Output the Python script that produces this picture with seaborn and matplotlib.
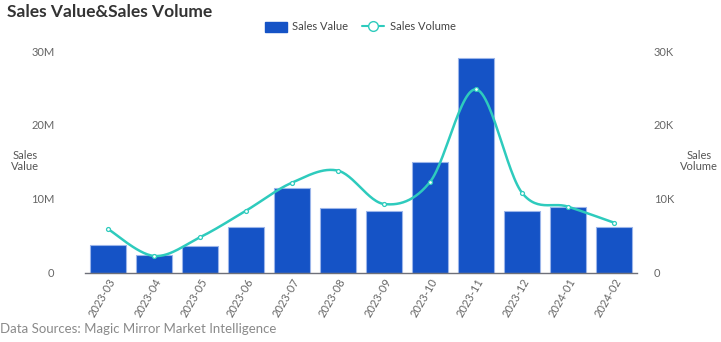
import numpy as np
import pandas as pd
import matplotlib
matplotlib.use("Agg")
import matplotlib.pyplot as plt
import seaborn as sns
from matplotlib.lines import Line2D
from matplotlib.patches import Patch
from matplotlib.ticker import FuncFormatter

months = ["2023-03", "2023-04", "2023-05", "2023-06", "2023-07", "2023-08",
          "2023-09", "2023-10", "2023-11", "2023-12", "2024-01", "2024-02"]
sales_value = [3.77e6, 2.37e6, 3.59e6, 6.12e6, 11.4e6, 8.78e6,
               8.33e6, 14.9e6, 29.0e6, 8.33e6, 8.88e6, 6.17e6]
sales_volume = [5890, 2240, 4770, 8370, 12170, 13790,
                9280, 12260, 24800, 10800, 8920, 6750]

sns.set_theme(style="white")
plt.rcParams['font.family'] = ['Lato', 'DejaVu Sans']

BAR = "#1553c6"
LINE = "#2ecbbd"
GREY = "#666666"

fig = plt.figure(figsize=(7.21, 3.42), dpi=100)
ax = fig.add_axes([85/721, 1-272.5/342, (637-85)/721, (272.5-51)/342])

df = pd.DataFrame({"month": months, "value": sales_value, "volume": sales_volume})
sns.barplot(data=df, x="month", y="value", color=BAR, width=0.78,
            edgecolor="#9bb5ea", linewidth=0.8, saturation=1, ax=ax)
ax.set_ylim(0, 30e6)
ax.set_xlim(-0.5, len(months)-0.5)
ax.set_yticks([0, 10e6, 20e6, 30e6])
ax.yaxis.set_major_formatter(FuncFormatter(lambda v, p: "0" if v == 0 else f"{int(v/1e6)}M"))
ax.set_xlabel("")
ax.set_ylabel("")
for s in ["top", "right", "left"]:
    ax.spines[s].set_visible(False)
ax.spines["bottom"].set_color("#6e7079")
ax.spines["bottom"].set_linewidth(1)
ax.tick_params(axis="y", length=0, labelsize=8, labelcolor=GREY, pad=22)
ax.tick_params(axis="x", length=0, labelsize=8, labelcolor=GREY, pad=3)
plt.setp(ax.get_xticklabels(), rotation=60, ha="right", rotation_mode="anchor")

ax2 = ax.twinx()
ax2.set_ylim(0, 30000)
ax2.set_yticks([0, 10000, 20000, 30000])
ax2.yaxis.set_major_formatter(FuncFormatter(lambda v, p: "0" if v == 0 else f"{int(v/1e3)}K"))
for s in ["top", "right", "left", "bottom"]:
    ax2.spines[s].set_visible(False)
ax2.tick_params(axis="y", length=0, labelsize=8, labelcolor=GREY, pad=12)
ax2.grid(False)
ax.grid(False)

# smooth (Catmull-Rom) curve through the volume points
x = np.arange(len(sales_volume), dtype=float)
y = np.asarray(sales_volume, dtype=float)
px = np.concatenate([[x[0]], x, [x[-1]]])
py = np.concatenate([[y[0]], y, [y[-1]]])
cx, cy = [], []
t = np.linspace(0, 1, 30)
for i in range(1, len(px)-2):
    p0, p1, p2, p3 = px[i-1], px[i], px[i+1], px[i+2]
    q0, q1, q2, q3 = py[i-1], py[i], py[i+1], py[i+2]
    def cr(a0, a1, a2, a3):
        return 0.5*((2*a1) + (-a0+a2)*t + (2*a0-5*a1+4*a2-a3)*t**2 + (-a0+3*a1-3*a2+a3)*t**3)
    cx.extend(cr(p0, p1, p2, p3)); cy.extend(cr(q0, q1, q2, q3))
ax2.plot(cx, cy, color=LINE, lw=1.8, zorder=3)
sns.scatterplot(x=x, y=y, ax=ax2, color="white", edgecolor=LINE, s=8,
                linewidth=0.9, zorder=4, legend=False)

fig.text(7/721, 1-12/342, "Sales Value&Sales Volume", fontsize=12.5, fontweight="bold",
         color="#333333", va="center", ha="left")
fig.text(25/721, 1-161/342, "Sales\nValue", fontsize=8, color="#555555",
         ha="center", va="center", linespacing=1.0)
fig.text(699/721, 1-161/342, "Sales\nVolume", fontsize=8, color="#555555",
         ha="center", va="center", linespacing=1.0)
fig.text(0, 1-329/342, "Data Sources: Magic Mirror Market Intelligence",
         fontsize=9.5, color="#8a8a8a", ha="left", va="center")

handles = [Patch(facecolor=BAR, edgecolor=BAR, label="Sales Value"),
           Line2D([0], [0], color=LINE, lw=1.5, marker="o", markersize=7,
                  markerfacecolor="white", markeredgecolor=LINE, label="Sales Volume")]
fig.legend(handles=handles, loc="center", bbox_to_anchor=(360/721, 1-27/342), ncol=2,
           frameon=False, fontsize=8, labelcolor="#444444", handlelength=2.0,
           handleheight=1.0, columnspacing=1.2, handletextpad=0.5)

fig.savefig("out.png", dpi=100)
